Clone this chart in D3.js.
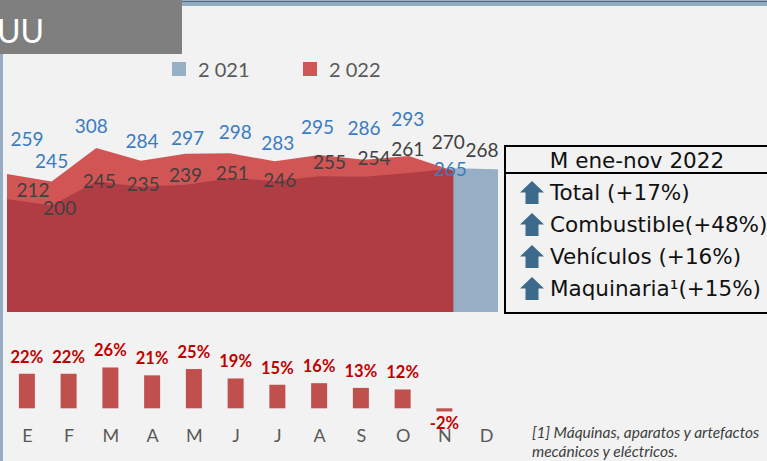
<!DOCTYPE html>
<html>
<head>
<meta charset="utf-8">
<script src="https://cdn.jsdelivr.net/npm/d3@7"></script>
<style>
  html, body { margin: 0; padding: 0; background: #f2f2f2; }
  svg { display: block; }
</style>
</head>
<body>
<svg id="chart" width="767" height="461"></svg>
<script>
// ---------- DATA ----------
const months = ["E","F","M","A","M","J","J","A","S","O","N","D"];
const series2021 = [212,200,245,235,239,251,246,255,254,261,270,268];
const series2022 = [259,245,308,284,297,298,283,295,286,293,265];
const growthPct = [22,22,26,21,25,19,15,16,13,12,-2];
const legendLabels = ["2 021","2 022"];
const titleText = "UU";
const boxTitle = "M ene-nov 2022";
const boxItems = ["Total (+17%)","Combustible(+48%)","Vehículos (+16%)","Maquinaria\u00B9(+15%)"];
const footnoteLines = ["[1] Máquinas, aparatos y artefactos","mecánicos y eléctricos."];

// ---------- LAYOUT (label nudges, px, relative to each point) ----------
const nudge2022 = [[20,-35],[0,-20],[-5,-22],[1,-19],[2,-15],[5,-21],[3,-18],[-2,-28],[0,-31],[-1,-37],[-3,-2]];
const nudge2021 = [[26,-9],[8,3],[3,0],[2,-2],[0,-9],[2,-5],[5,-1],[10,-14],[10,-18],[-1,-24],[-5,-26],[-16,-19]];

// ---------- SETUP ----------
const svg = d3.select("#chart");
const W = 767, H = 461;
const FONT = "Lato, 'Open Sans', sans-serif";
const c2021 = "#97afc4", c2022 = "rgb(190,0,0)", c2022op = 0.65;

svg.append("rect").attr("width", W).attr("height", H).attr("fill", "#f2f2f2");

// frame decorations
svg.append("rect").attr("x", 182).attr("y", 0.5).attr("width", W - 182).attr("height", 1.5).attr("fill", "#4e6a84");
svg.append("rect").attr("x", 182).attr("y", 2).attr("width", W - 182).attr("height", 4).attr("fill", "#94acc1");
svg.append("rect").attr("x", 0).attr("y", 54).attr("width", 3).attr("height", H - 54).attr("fill", "#95adc2");

// title box
svg.append("rect").attr("x", 0).attr("y", 0).attr("width", 182).attr("height", 54).attr("fill", "#7f7f7f");
svg.append("text").attr("x", -3).attr("y", 43).attr("fill", "#ffffff")
  .style("font-family", FONT).style("font-size", "32px").text(titleText);

// legend
const legendColors = [c2021, "#d05555"];
const legendX = [172, 303];
legendLabels.forEach((t, i) => {
  svg.append("rect").attr("x", legendX[i]).attr("y", 62).attr("width", 14).attr("height", 14).attr("fill", legendColors[i]);
  svg.append("text").attr("x", legendX[i] + 26).attr("y", 76.5).attr("fill", "#595959")
    .style("font-family", FONT).style("font-size", "20px").text(t);
});

// ---------- AREA CHART ----------
const idx = d3.range(months.length);
const x = d3.scalePoint().domain(idx).range([7, 498]);
const y = d3.scaleLinear().domain([0, 350]).range([312, 125.6]);

const area = d3.area().x((d, i) => x(i)).y0(y(0)).y1(d => y(d));

svg.append("path").datum(series2021).attr("d", area).attr("fill", c2021);
svg.append("path").datum(series2022).attr("d", area).attr("fill", c2022).attr("fill-opacity", c2022op);

const blueC = "#3a7cc0", greyC = "#404040";
const labelG = svg.append("g").style("font-family", FONT).style("font-size", "19px").attr("text-anchor", "middle");
series2021.forEach((v, i) => {
  labelG.append("text").attr("x", x(i) + nudge2021[i][0]).attr("y", y(v) + nudge2021[i][1])
    .attr("dy", "0.35em").attr("fill", greyC).text(v);
});
series2022.forEach((v, i) => {
  labelG.append("text").attr("x", x(i) + nudge2022[i][0]).attr("y", y(v) + nudge2022[i][1])
    .attr("dy", "0.35em").attr("fill", blueC).text(v);
});

// ---------- GROWTH BARS ----------
const xb = d3.scalePoint().domain(idx).range([6, 507]).padding(0.5);
const yb = d3.scaleLinear().domain([0, 30]).range([408.3, 361.2]);
const barW = 16;

svg.append("g").selectAll("rect").data(growthPct).join("rect")
  .attr("x", (d, i) => xb(i) - barW / 2)
  .attr("y", d => yb(Math.max(0, d)))
  .attr("width", barW)
  .attr("height", d => Math.abs(yb(d) - yb(0)))
  .attr("fill", "#c0504d");

svg.append("g").style("font-family", FONT).style("font-size", "16.5px").style("font-weight", "bold")
  .attr("text-anchor", "middle").attr("fill", "#c00000")
  .selectAll("text").data(growthPct).join("text")
  .attr("x", (d, i) => xb(i))
  .attr("y", d => d >= 0 ? yb(d) - 11 : yb(d) + 18)
  .text(d => d + "%");

// month axis (no line)
const axisG = svg.append("g").attr("transform", "translate(0,436)")
  .call(d3.axisBottom(xb).tickSize(0).tickPadding(0).tickFormat(i => months[i]));
axisG.select(".domain").remove();
axisG.selectAll("text").attr("dy", "0.35em").attr("y", 0)
  .style("font-family", FONT).style("font-size", "18px").attr("fill", "#595959");

// ---------- SUMMARY BOX ----------
const boxG = svg.append("g");
boxG.append("rect").attr("x", 505).attr("y", 146).attr("width", 300).attr("height", 167)
  .attr("fill", "none").attr("stroke", "#000").attr("stroke-width", 2);
boxG.append("line").attr("x1", 505).attr("x2", 805).attr("y1", 173).attr("y2", 173)
  .attr("stroke", "#000").attr("stroke-width", 2);
const BFONT = "'DejaVu Sans', Verdana, sans-serif";
boxG.append("text").attr("x", 637).attr("y", 168).attr("text-anchor", "middle").attr("fill", "#111")
  .style("font-family", BFONT).style("font-size", "21.5px").text(boxTitle);
const rowCy = [192, 224, 256, 288];
boxItems.forEach((t, i) => {
  const cy = rowCy[i];
  boxG.append("path")
    .attr("d", "M12,0 L24,11.5 L18.5,11.5 L18.5,23 L5.5,23 L5.5,11.5 L0,11.5 Z")
    .attr("transform", `translate(520,${cy - 11})`)
    .attr("fill", "#3c6a8c");
  boxG.append("text").attr("x", 550).attr("y", cy).attr("dy", "0.36em").attr("fill", "#111")
    .style("font-family", BFONT).style("font-size", "21.5px").text(t);
});

// ---------- FOOTNOTE ----------
footnoteLines.forEach((t, i) => {
  svg.append("text").attr("x", 532).attr("y", 437.5 + i * 19).attr("fill", "#404040")
    .style("font-family", FONT).style("font-size", "15.5px").style("font-style", "italic").text(t);
});
</script>
</body>
</html>
